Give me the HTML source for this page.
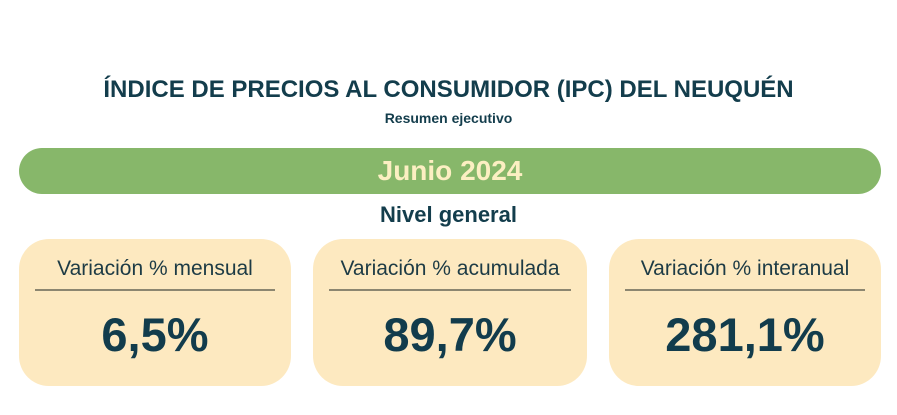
<!DOCTYPE html>
<html><head><meta charset="utf-8"><style>
body{margin:0;width:897px;height:415px;background:#fff;position:relative;overflow:hidden;font-family:"Liberation Sans",sans-serif;color:#133d4c}
.t{position:absolute;left:0;width:897px;text-align:center}
.bar{position:absolute;left:19px;top:148px;width:862px;height:46px;border-radius:23px;background:#87b76a;color:#fcefc2;font-weight:bold;font-size:28px;line-height:46px;text-align:center}
.card{position:absolute;top:239px;height:147px;background:#fde9c0;border-radius:30px}
.card .l{position:absolute;top:18px;left:0;right:0;text-align:center;font-size:21px;color:#1d3b45}
.card .ln{position:absolute;top:50px;left:16px;right:16px;height:2px;background:#8c8670}
.card .v{position:absolute;top:68px;left:0;right:0;text-align:center;font-size:47px;font-weight:bold;color:#123c4c}
</style></head><body>
<div class="t" style="top:76px;font-size:24px;font-weight:bold">ÍNDICE DE PRECIOS AL CONSUMIDOR (IPC) DEL NEUQUÉN</div>
<div class="t" style="top:110px;font-size:14px;font-weight:bold">Resumen ejecutivo</div>
<div class="bar">Junio 2024</div>
<div class="t" style="top:202px;font-size:22px;font-weight:bold">Nivel general</div>
<div class="card" style="left:19px;width:272px"><div class="l">Variación % mensual</div><div class="ln"></div><div class="v">6,5%</div></div>
<div class="card" style="left:313px;width:274px"><div class="l">Variación % acumulada</div><div class="ln"></div><div class="v">89,7%</div></div>
<div class="card" style="left:609px;width:272px"><div class="l">Variación % interanual</div><div class="ln"></div><div class="v">281,1%</div></div>
</body></html>
